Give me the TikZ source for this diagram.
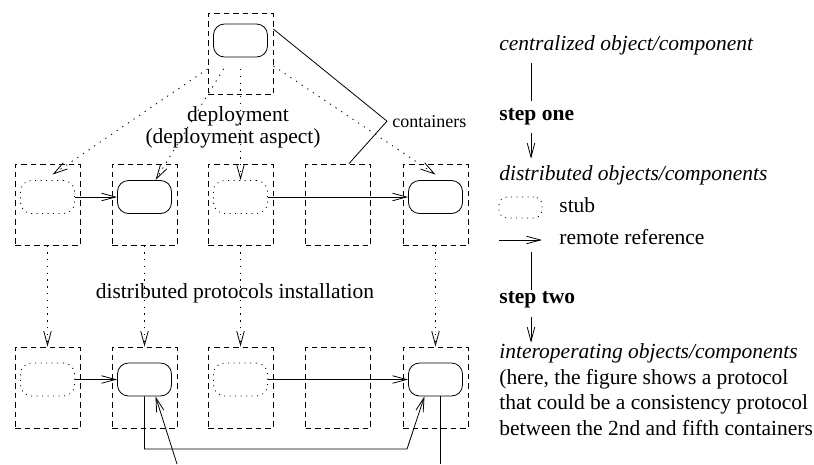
\documentclass[tikz,border=0pt]{standalone}
\usepackage{fontspec}
\setmainfont{Liberation Serif}
\usepackage{tikz}
\usetikzlibrary{arrows.meta}
\tikzset{
  container/.style={draw,dash pattern=on 5.5pt off 4pt,minimum width=65pt,minimum height=81pt,inner sep=0pt},
  object/.style={draw,rounded corners=11pt,minimum width=54pt,minimum height=33pt,inner sep=0pt},
  stubobj/.style={object,dash pattern=on 1pt off 4.5pt},
  dotline/.style={dash pattern=on 1.3pt off 5.5pt},
  refarrow/.style={-{Straight Barb[length=14pt,width=7.5pt]}},
  lbl/.style={inner sep=0pt,anchor=base west}
}
\begin{document}
\begin{tikzpicture}[x=1pt,y=-1pt,line width=0.8pt,font=\fontsize{21.5}{25.5}\selectfont]
            \useasboundingbox (0,0) rectangle (814,464);
            \node[container] (topcont) at (240.5,54) {};
            \node[object] (topobj) at (240.5,40.5) {};
            \node[container] (mcont1) at (47.5,204.5) {};
            \node[container] (mcont2) at (144.5,204.5) {};
            \node[container] (mcont3) at (240.5,204.5) {};
            \node[container] (mcont4) at (338,204.5) {};
            \node[container] (mcont5) at (435.5,204.5) {};
            \node[stubobj] (mstub1) at (47.5,197) {};
            \node[object] (mobj2) at (144.5,197) {};
            \node[stubobj] (mstub3) at (240.5,197) {};
            \node[object] (mobj5) at (435.5,197) {};
            \node[container] (bcont1) at (47.5,387.5) {};
            \node[container] (bcont2) at (144.5,387.5) {};
            \node[container] (bcont3) at (240.5,387.5) {};
            \node[container] (bcont4) at (338,387.5) {};
            \node[container] (bcont5) at (435.5,387.5) {};
            \node[stubobj] (bstub1) at (47.5,379.5) {};
            \node[object] (bobj2) at (144.5,379.5) {};
            \node[stubobj] (bstub3) at (240.5,379.5) {};
            \node[object] (bobj5) at (435.5,379.5) {};
            \draw[refarrow] (mstub1) -- (mobj2);
            \draw[refarrow] (mstub3) -- (mobj5);
            \draw[refarrow] (bstub1) -- (bobj2);
            \draw[refarrow] (bstub3) -- (bobj5);
            \draw[dotline,refarrow] ([yshift=26pt]topcont.south west) -- ([xshift=5pt,yshift=5.5pt]mstub1.north);
            \draw[dotline,refarrow] ([xshift=16pt,yshift=26pt]topcont.south west) -- ([xshift=11pt]mobj2.north);
            \draw[dotline,refarrow] ([yshift=26pt]topcont.south) -- (mstub3.north);
            \draw[dotline,refarrow] ([yshift=29pt]topcont.south east) -- ([yshift=5.5pt]mobj5.north);
            \draw[dotline,refarrow] (mcont1) -- (bcont1);
            \draw[dotline,refarrow] (mcont2) -- (bcont2);
            \draw[dotline,refarrow] (mcont3) -- (bcont3);
            \draw[dotline,refarrow] (mcont5) -- (bcont5);
            \node[lbl,anchor=base] (deploy) at (238,121.5) {deployment};
            \node[lbl,anchor=base] (aspect) at (233,143.5) {(deployment aspect)};
            \node[lbl,anchor=base] (install) at (235,298.5) {distributed protocols installation};
            \node[lbl,font=\fontsize{18}{22}\selectfont] (contlbl) at (392,127) {containers};
            \draw ([yshift=-16pt]topcont.north east) -- ([xshift=-5pt]contlbl.west) -- ([xshift=11pt]mcont4.north);
            \coordinate (protoA) at (407,449);
            \coordinate (extA) at (177,464);
            \coordinate (extB) at (440.5,464);
            \draw[refarrow] (bobj2.south) |- (protoA) -- ([xshift=-11pt]bobj5.south);
            \draw[refarrow] (extA) -- ([xshift=11pt]bobj2.south);
            \draw ([xshift=5pt]bobj5.south) -- (extB);
            \coordinate (spine) at (531,0);
            \node[lbl] (cent) at (499,50.5) {\itshape centralized object/component};
            \node[lbl] (stepone) at (499,120.7) {\bfseries step one};
            \node[lbl] (dist) at (499,180) {\itshape distributed objects/components};
            \node[stubobj,minimum width=43pt,minimum height=21pt,rounded corners=8pt] (legstub) at (520.5,207.5) {};
            \node[lbl] (stubtxt) at (559,212) {stub};
            \coordinate (refA) at (499,240);
            \coordinate (refB) at (542,240);
            \draw[refarrow] (refA) -- (refB);
            \node[lbl] (reftxt) at (559,244) {remote reference};
            \node[lbl] (steptwo) at (499,303) {\bfseries step two};
            \node[lbl] (interop) at (499,358) {\itshape interoperating objects/components};
            \node[lbl] (note1) at (499,384) {(here, the figure shows a protocol};
            \node[lbl] (note2) at (499,409.5) {that could be a consistency protocol};
            \node[lbl] (note3) at (499,435) {between the 2nd and fifth containers};
            \draw[shorten <=8pt,shorten >=7.5pt] (spine |- cent.south) -- (spine |- stepone.north);
            \draw[refarrow,shorten <=7.5pt,shorten >=6pt] (spine |- stepone.south) -- (spine |- dist.north);
            \draw[shorten <=7pt,shorten >=1pt] (spine |- reftxt.south) -- (spine |- steptwo.north);
            \draw[refarrow,shorten <=9pt] (spine |- steptwo.south) -- (spine |- interop.north);
        \end{tikzpicture}
\end{document}
